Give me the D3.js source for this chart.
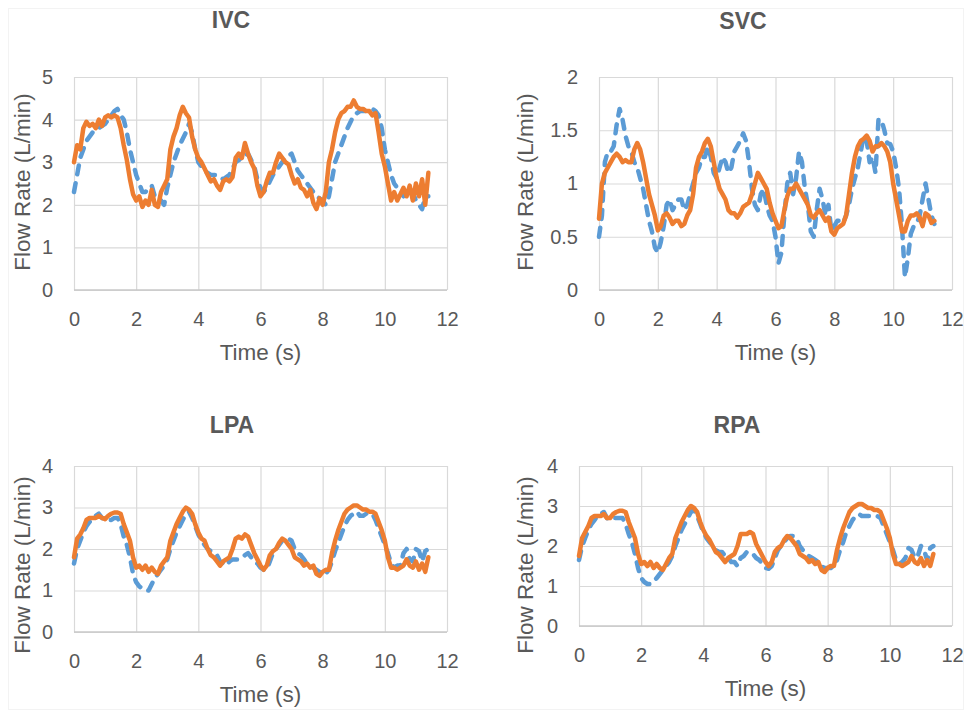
<!DOCTYPE html>
<html>
<head>
<meta charset="utf-8">
<script src="https://cdn.jsdelivr.net/npm/d3@7"></script>
<style>
  html, body { margin: 0; padding: 0; background: #ffffff; }
  svg { display: block; }
  text { font-family: "Liberation Sans", Arial, sans-serif; fill: #595959; }
</style>
</head>
<body>
<svg id="chart" width="974" height="711"></svg>
<script>
// Sample times (s), shared by every trace
const timeS = [
  0.0,0.1,0.2,0.3,0.4,0.5,0.6,0.7,0.8,0.9,
  1.0,1.1,1.2,1.3,1.4,1.5,1.6,1.7,1.8,1.9,
  2.0,2.1,2.2,2.3,2.4,2.5,2.6,2.7,2.8,2.9,
  3.0,3.1,3.2,3.3,3.4,3.5,3.6,3.7,3.8,3.9,
  4.0,4.1,4.2,4.3,4.4,4.5,4.6,4.7,4.8,4.9,
  5.0,5.1,5.2,5.3,5.4,5.5,5.6,5.7,5.8,5.9,
  6.0,6.1,6.2,6.3,6.4,6.5,6.6,6.7,6.8,6.9,
  7.0,7.1,7.2,7.3,7.4,7.5,7.6,7.7,7.8,7.9,
  8.0,8.1,8.2,8.3,8.4,8.5,8.6,8.7,8.8,8.9,
  9.0,9.1,9.2,9.3,9.4,9.5,9.6,9.7,9.8,9.9,
  10.0,10.1,10.2,10.3,10.4,10.5,10.6,10.7,10.8,10.9,
  11.0,11.1,11.2,11.3,11.4
];

// IVC flow (L/min)
const ivcDashed = [
  2.3,2.7,3.1,3.3,3.5,3.6,3.7,3.75,3.8,3.85,
  3.9,4.0,4.1,4.2,4.25,4.1,4.0,3.7,3.3,3.0,
  2.7,2.5,2.3,2.3,2.4,2.45,2.2,2.2,2.1,2.0,
  2.4,2.7,3.0,3.2,3.4,3.55,3.7,3.9,3.7,3.3,
  3.0,2.9,2.8,2.75,2.7,2.7,2.7,2.65,2.6,2.65,
  2.7,2.85,3.0,3.05,3.1,3.15,3.2,3.05,2.9,2.6,
  2.4,2.3,2.4,2.55,2.7,2.8,2.9,3.0,3.1,3.15,
  3.2,3.0,2.8,2.7,2.6,2.5,2.4,2.3,2.2,2.15,
  2.1,2.0,2.2,2.6,3.0,3.2,3.4,3.6,3.8,3.95,
  4.1,4.15,4.2,4.2,4.2,4.2,4.25,4.2,4.1,3.8,
  3.3,3.0,2.7,2.5,2.4,2.3,2.2,2.3,2.4,2.3,
  2.1,2.0,1.9,2.2,2.2
];
const ivcSolid = [
  3.0,3.4,3.3,3.8,3.95,3.85,3.9,3.8,4.0,3.85,
  4.05,4.1,4.05,4.1,4.05,3.8,3.4,3.05,2.6,2.25,
  2.1,2.2,1.95,2.1,2.0,2.35,2.0,1.95,2.3,2.45,
  2.6,3.3,3.6,3.8,4.1,4.3,4.15,4.05,3.6,3.3,
  3.1,3.0,2.85,2.7,2.55,2.6,2.45,2.35,2.55,2.6,
  2.55,2.65,3.1,3.2,3.1,3.45,3.2,3.0,2.85,2.45,
  2.2,2.3,2.55,2.75,2.75,3.0,3.2,3.1,3.0,2.95,
  2.7,2.5,2.6,2.4,2.35,2.2,2.35,2.05,1.9,2.15,
  2.0,2.3,3.0,3.3,3.7,4.0,4.15,4.2,4.3,4.3,
  4.45,4.3,4.25,4.25,4.2,4.2,4.1,4.15,3.7,3.2,
  2.9,2.5,2.1,2.3,2.1,2.25,2.4,2.2,2.45,2.1,
  2.5,2.2,2.6,2.0,2.75
];

// SVC flow (L/min)
const svcDashed = [
  0.5,0.7,1.2,1.3,1.3,1.35,1.55,1.7,1.6,1.45,
  1.35,1.3,1.2,1.15,1.05,0.95,0.8,0.65,0.55,0.4,
  0.35,0.45,0.6,0.8,0.85,0.75,0.8,0.85,0.85,0.75,
  0.8,0.9,1.0,1.1,1.15,1.25,1.25,1.35,1.25,1.1,
  1.05,1.15,1.25,1.2,1.1,1.15,1.3,1.35,1.4,1.47,
  1.4,1.2,0.95,0.8,0.75,0.9,0.95,0.8,0.7,0.65,
  0.5,0.25,0.35,0.7,1.0,1.1,0.9,1.05,1.3,1.2,
  0.95,0.8,0.55,0.5,0.75,0.95,0.85,0.7,0.8,0.55,
  0.6,0.65,0.65,0.63,0.7,0.8,0.95,1.05,1.15,1.3,
  1.45,1.4,1.2,1.25,1.1,1.6,1.6,1.5,1.38,1.37,
  1.3,1.15,0.95,0.6,0.12,0.3,0.53,0.6,0.62,0.7,
  0.85,1.0,0.85,0.7,0.62
];
const svcSolid = [
  0.67,1.0,1.1,1.15,1.2,1.25,1.28,1.25,1.2,1.22,
  1.2,1.2,1.32,1.38,1.32,1.2,1.05,0.9,0.8,0.7,
  0.56,0.6,0.7,0.72,0.68,0.62,0.65,0.65,0.6,0.62,
  0.7,0.75,0.9,1.15,1.25,1.3,1.38,1.42,1.35,1.2,
  1.05,0.95,0.9,0.85,0.75,0.72,0.72,0.68,0.72,0.78,
  0.8,0.82,0.9,1.0,1.1,1.05,1.0,0.95,0.82,0.72,
  0.65,0.58,0.6,0.75,0.88,0.95,0.95,1.0,0.95,0.9,
  0.85,0.8,0.7,0.68,0.72,0.75,0.7,0.65,0.68,0.55,
  0.52,0.58,0.6,0.62,0.7,0.9,1.1,1.25,1.35,1.4,
  1.42,1.45,1.4,1.3,1.35,1.35,1.38,1.35,1.3,1.2,
  1.0,0.85,0.7,0.55,0.55,0.65,0.7,0.7,0.72,0.68,
  0.6,0.72,0.7,0.63,0.65
];

// LPA flow (L/min)
const lpaDashed = [
  1.65,2.0,2.2,2.4,2.55,2.65,2.75,2.8,2.85,2.75,
  2.7,2.7,2.7,2.75,2.75,2.6,2.3,2.1,1.8,1.4,
  1.2,1.1,1.05,1.0,1.0,1.15,1.3,1.4,1.5,1.6,
  1.75,2.0,2.2,2.4,2.55,2.7,2.85,2.9,2.75,2.55,
  2.35,2.2,2.1,2.0,1.95,1.9,1.85,1.7,1.65,1.6,
  1.7,1.75,1.75,1.75,1.8,1.85,1.9,1.8,1.7,1.65,
  1.55,1.5,1.5,1.7,1.9,2.0,2.1,2.2,2.2,2.25,
  2.2,2.0,1.9,1.85,1.75,1.65,1.6,1.55,1.5,1.45,
  1.45,1.4,1.5,1.7,1.95,2.15,2.35,2.55,2.7,2.8,
  2.85,2.9,2.8,2.8,2.85,2.85,2.85,2.7,2.5,2.3,
  2.1,1.9,1.65,1.55,1.6,1.6,1.9,2.0,1.75,1.7,
  2.0,1.95,1.7,1.95,2.0
];
const lpaSolid = [
  1.8,2.25,2.35,2.5,2.7,2.75,2.75,2.75,2.8,2.75,
  2.72,2.8,2.85,2.88,2.88,2.85,2.6,2.4,2.2,1.8,
  1.55,1.6,1.5,1.6,1.45,1.55,1.45,1.4,1.6,1.7,
  1.8,2.2,2.4,2.6,2.75,2.9,3.0,2.95,2.85,2.6,
  2.4,2.25,2.2,2.0,1.85,1.8,1.7,1.6,1.7,1.75,
  1.8,2.0,2.25,2.3,2.25,2.35,2.3,2.1,1.9,1.75,
  1.6,1.5,1.6,1.85,1.95,2.0,2.15,2.25,2.2,2.1,
  2.0,1.8,1.75,1.7,1.6,1.65,1.55,1.6,1.4,1.35,
  1.45,1.5,1.5,1.9,2.2,2.45,2.65,2.85,2.95,3.0,
  3.05,3.05,3.0,2.95,2.95,2.9,2.9,2.85,2.65,2.45,
  2.2,1.8,1.55,1.55,1.5,1.55,1.6,1.75,1.6,1.55,
  1.7,1.5,1.65,1.45,1.8
];

// RPA flow (L/min)
const rpaDashed = [
  1.65,2.0,2.2,2.4,2.55,2.65,2.75,2.8,2.85,2.7,
  2.65,2.7,2.7,2.7,2.7,2.55,2.3,2.1,1.8,1.45,
  1.2,1.1,1.05,1.05,1.1,1.2,1.3,1.4,1.5,1.6,
  1.75,2.0,2.2,2.4,2.55,2.7,2.85,2.9,2.75,2.55,
  2.35,2.2,2.1,2.0,1.9,1.85,1.85,1.75,1.7,1.6,
  1.6,1.5,1.7,1.75,1.85,1.85,1.8,1.7,1.65,1.55,
  1.45,1.43,1.5,1.7,1.9,2.0,2.1,2.2,2.25,2.25,
  2.2,2.0,1.9,1.85,1.75,1.7,1.65,1.6,1.5,1.45,
  1.45,1.45,1.5,1.65,1.9,2.1,2.35,2.5,2.65,2.75,
  2.8,2.75,2.75,2.75,2.75,2.75,2.75,2.7,2.5,2.3,
  2.1,1.9,1.65,1.55,1.6,1.7,1.95,1.9,1.7,1.75,
  2.0,1.9,1.65,1.95,2.0
];
const rpaSolid = [
  1.75,2.2,2.35,2.5,2.7,2.75,2.75,2.75,2.8,2.7,
  2.7,2.8,2.85,2.88,2.88,2.85,2.6,2.4,2.2,1.8,
  1.55,1.6,1.5,1.6,1.45,1.55,1.45,1.4,1.55,1.7,
  1.8,2.2,2.4,2.6,2.75,2.9,3.0,2.95,2.85,2.6,
  2.4,2.25,2.15,2.0,1.85,1.8,1.7,1.6,1.7,1.75,
  1.8,2.0,2.3,2.3,2.3,2.35,2.3,2.05,1.9,1.75,
  1.6,1.5,1.6,1.85,1.95,2.0,2.15,2.25,2.2,2.1,
  2.0,1.8,1.75,1.7,1.6,1.65,1.55,1.6,1.4,1.35,
  1.45,1.5,1.5,1.9,2.2,2.45,2.65,2.85,2.95,3.0,
  3.05,3.05,3.0,2.95,2.95,2.9,2.9,2.85,2.65,2.45,
  2.2,1.8,1.55,1.55,1.5,1.55,1.6,1.75,1.6,1.55,
  1.7,1.5,1.65,1.5,1.8
];

// Axis ticks
const timeTicks = [0, 2, 4, 6, 8, 10, 12];
const ivcTicks = [0, 1, 2, 3, 4, 5];
const svcTicks = [0, 0.5, 1, 1.5, 2];
const paTicks = [0, 1, 2, 3, 4];

const titles = ["IVC", "SVC", "LPA", "RPA"];
const xTitle = "Time (s)";
const yTitle = "Flow Rate (L/min)";

const colors = { dashed: "#5B9BD5", solid: "#ED7D31" };

// Panel layout: plot box, title and axis-title positions
const panels = [
  { title: titles[0], dashed: ivcDashed, solid: ivcSolid, yTicks: ivcTicks,
    x0: 74, x1: 447, y0: 77, y1: 290, titleX: 231, titleY: 28, yTitleX: 30, yTitleY: 182 },
  { title: titles[1], dashed: svcDashed, solid: svcSolid, yTicks: svcTicks,
    x0: 599, x1: 952, y0: 77, y1: 290, titleX: 743, titleY: 29, yTitleX: 533, yTitleY: 182 },
  { title: titles[2], dashed: lpaDashed, solid: lpaSolid, yTicks: paTicks,
    x0: 74, x1: 447, y0: 466, y1: 632, titleX: 232, titleY: 433, yTitleX: 30, yTitleY: 565 },
  { title: titles[3], dashed: rpaDashed, solid: rpaSolid, yTicks: paTicks,
    x0: 579, x1: 952, y0: 466, y1: 626, titleX: 737, titleY: 433, yTitleX: 533, yTitleY: 565 }
];

const svg = d3.select("#chart");

// faint frame around the figure
svg.append("rect")
  .attr("x", 8.5).attr("y", 8.5)
  .attr("width", 955).attr("height", 701)
  .attr("fill", "none").attr("stroke", "#f3f3f3").attr("stroke-width", 1);

panels.forEach(p => {
  const w = p.x1 - p.x0, h = p.y1 - p.y0;
  const x = d3.scaleLinear().domain([0, 12]).range([0, w]);
  const y = d3.scaleLinear().domain([0, d3.max(p.yTicks)]).range([h, 0]);

  const g = svg.append("g").attr("transform", `translate(${p.x0},${p.y0})`);

  // horizontal gridlines + y tick labels
  const ya = g.append("g")
    .call(d3.axisLeft(y).tickValues(p.yTicks).tickSize(-w).tickPadding(21).tickFormat(d => String(d)));
  ya.select(".domain").remove();
  ya.selectAll("line").attr("stroke", "#d9d9d9").attr("stroke-width", 1.2);
  ya.selectAll("text").attr("font-size", 20).attr("fill", "#595959")
    .style("font-family", "'Liberation Sans', Arial, sans-serif");

  // vertical gridlines + x tick labels
  const xa = g.append("g").attr("transform", `translate(0,${h})`)
    .call(d3.axisBottom(x).tickValues(timeTicks).tickSize(-h).tickPadding(22).tickFormat(d => String(d)));
  xa.select(".domain").remove();
  xa.selectAll("line").attr("stroke", "#d9d9d9").attr("stroke-width", 1.2);
  xa.selectAll("text").attr("font-size", 20).attr("fill", "#595959")
    .style("font-family", "'Liberation Sans', Arial, sans-serif");

  // baseline
  g.append("line").attr("x1", 0).attr("x2", w).attr("y1", h).attr("y2", h)
    .attr("stroke", "#c8c8c8").attr("stroke-width", 1.3);

  const line = d3.line().x((d, i) => x(timeS[i])).y(d => y(d));

  g.append("path").datum(p.dashed)
    .attr("d", line).attr("fill", "none")
    .attr("stroke", colors.dashed).attr("stroke-width", 4.5)
    .attr("stroke-dasharray", "9,9").attr("stroke-linecap", "round")
    .attr("stroke-linejoin", "round");

  g.append("path").datum(p.solid)
    .attr("d", line).attr("fill", "none")
    .attr("stroke", colors.solid).attr("stroke-width", 4.5)
    .attr("stroke-linecap", "round").attr("stroke-linejoin", "round");

  // panel title
  svg.append("text").attr("x", p.titleX).attr("y", p.titleY)
    .attr("text-anchor", "middle").attr("font-size", 23).attr("font-weight", "bold")
    .text(p.title);

  // x axis title
  svg.append("text").attr("x", (p.x0 + p.x1) / 2).attr("y", p.y1 + 70)
    .attr("text-anchor", "middle").attr("font-size", 22.5)
    .text(xTitle);

  // y axis title
  svg.append("text")
    .attr("transform", `translate(${p.yTitleX},${p.yTitleY}) rotate(-90)`)
    .attr("text-anchor", "middle").attr("font-size", 22.5)
    .text(yTitle);
});
</script>
</body>
</html>
